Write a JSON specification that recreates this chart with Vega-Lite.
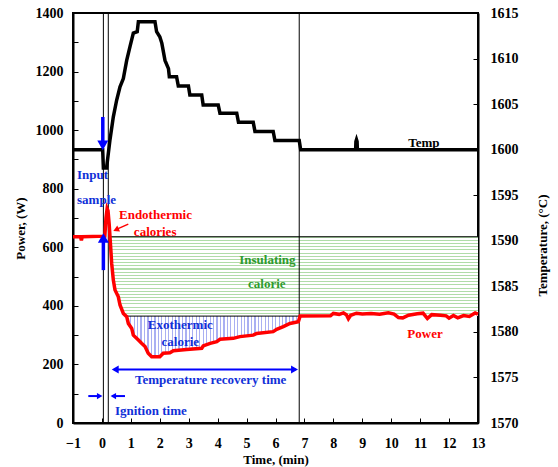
{
  "$schema": "https://vega.github.io/schema/vega-lite/v6.json",
  "width": 405,
  "height": 410,
  "autosize": {"type": "none"},
  "padding": {"left": 73, "top": 13, "right": 80, "bottom": 44},
  "background": "white",
  "config": {
    "view": {"stroke": "black", "strokeWidth": 2},
    "axis": {
      "labelFont": "Liberation Serif", "labelFontWeight": "bold", "labelFontSize": 14, "labelColor": "black",
      "titleFont": "Liberation Serif", "titleFontWeight": "bold", "titleFontSize": 13, "titleColor": "black",
      "domainColor": "black", "domainWidth": 2, "tickColor": "black", "tickWidth": 1, "tickSize": -5,
      "grid": false, "labelFlush": false, "labelOverlap": false
    },
    "text": {"font": "Liberation Serif", "fontWeight": "bold", "fontSize": 13}
  },
  "encoding": {
    "x": {
      "field": "t", "type": "quantitative",
      "scale": {"domain": [-1, 13], "nice": false, "zero": false},
      "axis": {
        "values": [-1, 0, 1, 2, 3, 4, 5, 6, 7, 8, 9, 10, 11, 12, 13],
        "format": "d", "labelPadding": 18,
        "title": "Time, (min)", "titleX": 202.5, "titleY": 36, "titleBaseline": "middle"
      }
    }
  },
  "resolve": {"scale": {"y": "independent"}},
  "layer": [
    {
      "data": {"values": [
        {"t": -1, "temp": 1600}, {"t": 0.026, "temp": 1600}, {"t": 0.05, "temp": 1598.0}, {"t": 0.16, "temp": 1598.0},
        {"t": 0.279, "temp": 1601.1}, {"t": 0.394, "temp": 1603.6}, {"t": 0.51, "temp": 1605.45}, {"t": 0.625, "temp": 1606.9},
        {"t": 0.74, "temp": 1607.8}, {"t": 0.856, "temp": 1609.8}, {"t": 0.97, "temp": 1611.3}, {"t": 1.085, "temp": 1612.8},
        {"t": 1.22, "temp": 1612.95}, {"t": 1.26, "temp": 1614.05}, {"t": 1.834, "temp": 1614.05}, {"t": 1.89, "temp": 1612.95},
        {"t": 2.0, "temp": 1612.4}, {"t": 2.07, "temp": 1611.7}, {"t": 2.18, "temp": 1609.8}, {"t": 2.3, "temp": 1608.9},
        {"t": 2.33, "temp": 1608}, {"t": 2.58, "temp": 1608}, {"t": 2.64, "temp": 1607}, {"t": 2.99, "temp": 1607},
        {"t": 3.04, "temp": 1606}, {"t": 3.45, "temp": 1606}, {"t": 3.5, "temp": 1604.9}, {"t": 4.02, "temp": 1604.9},
        {"t": 4.08, "temp": 1604}, {"t": 4.66, "temp": 1604}, {"t": 4.72, "temp": 1603}, {"t": 5.23, "temp": 1603},
        {"t": 5.29, "temp": 1602}, {"t": 5.92, "temp": 1602}, {"t": 5.98, "temp": 1601}, {"t": 6.82, "temp": 1601},
        {"t": 6.87, "temp": 1600}, {"t": 8.77, "temp": 1600}, {"t": 8.78, "temp": 1600.9}, {"t": 8.8, "temp": 1601.1},
        {"t": 8.82, "temp": 1600.9}, {"t": 8.83, "temp": 1600}, {"t": 13, "temp": 1600}
      ]},
      "mark": {"type": "line", "color": "black", "strokeWidth": 3.5},
      "encoding": {
        "y": {
          "field": "temp", "type": "quantitative",
          "scale": {"domain": [1570, 1615], "nice": false, "zero": false},
          "axis": {
            "orient": "right", "values": [1570, 1575, 1580, 1585, 1590, 1595, 1600, 1605, 1610, 1615],
            "format": "d", "labelPadding": 17,
            "title": "Temperature, (°C)", "titleAngle": -90, "titleX": 64, "titleY": 232,
            "titleBaseline": "middle", "titleAlign": "center"
          }
        }
      }
    },
    {
      "encoding": {
        "y": {
          "field": "p", "type": "quantitative",
          "scale": {"domain": [0, 1400], "nice": false, "zero": false},
          "axis": {
            "orient": "left",
            "values": [0, 100, 200, 300, 400, 500, 600, 700, 800, 900, 1000, 1100, 1200, 1300, 1400],
            "format": "d", "labelExpr": "datum.value % 200 === 0 ? datum.label : ''", "labelPadding": 15,
            "title": "Power, (W)", "titleAngle": -90, "titleX": -53, "titleY": 215,
            "titleBaseline": "middle", "titleAlign": "center"
          }
        }
      },
      "layer": [
        {
          "data": {"values": [
            {"t": 0.28, "p": 636, "p2": 636}, {"t": 0.337, "p": 636, "p2": 545}, {"t": 0.394, "p": 636, "p2": 488},
            {"t": 0.452, "p": 636, "p2": 454}, {"t": 0.567, "p": 636, "p2": 431}, {"t": 0.625, "p": 636, "p2": 403},
            {"t": 0.74, "p": 636, "p2": 374}, {"t": 0.856, "p": 636, "p2": 365}, {"t": 13, "p": 636, "p2": 365}
          ]},
          "mark": {"type": "area", "orient": "vertical", "fill": {"gradient": "linear", "x1": 0, "y1": 0, "x2": 0, "y2": 1, "stops": [
            {"offset":0,"color":"#b0dca8"},{"offset":0.013,"color":"#b0dca8"},{"offset":0.013,"color":"#fff"},{"offset":0.04,"color":"#fff"},
            {"offset":0.04,"color":"#b0dca8"},{"offset":0.053,"color":"#b0dca8"},{"offset":0.053,"color":"#fff"},{"offset":0.08,"color":"#fff"},
            {"offset":0.08,"color":"#b0dca8"},{"offset":0.093,"color":"#b0dca8"},{"offset":0.093,"color":"#fff"},{"offset":0.12,"color":"#fff"},
            {"offset":0.12,"color":"#b0dca8"},{"offset":0.133,"color":"#b0dca8"},{"offset":0.133,"color":"#fff"},{"offset":0.16,"color":"#fff"},
            {"offset":0.16,"color":"#b0dca8"},{"offset":0.173,"color":"#b0dca8"},{"offset":0.173,"color":"#fff"},{"offset":0.2,"color":"#fff"},
            {"offset":0.2,"color":"#b0dca8"},{"offset":0.213,"color":"#b0dca8"},{"offset":0.213,"color":"#fff"},{"offset":0.24,"color":"#fff"},
            {"offset":0.24,"color":"#b0dca8"},{"offset":0.253,"color":"#b0dca8"},{"offset":0.253,"color":"#fff"},{"offset":0.28,"color":"#fff"},
            {"offset":0.28,"color":"#b0dca8"},{"offset":0.293,"color":"#b0dca8"},{"offset":0.293,"color":"#fff"},{"offset":0.32,"color":"#fff"},
            {"offset":0.32,"color":"#b0dca8"},{"offset":0.333,"color":"#b0dca8"},{"offset":0.333,"color":"#fff"},{"offset":0.36,"color":"#fff"},
            {"offset":0.36,"color":"#b0dca8"},{"offset":0.373,"color":"#b0dca8"},{"offset":0.373,"color":"#fff"},{"offset":0.4,"color":"#fff"},
            {"offset":0.4,"color":"#b0dca8"},{"offset":0.413,"color":"#b0dca8"},{"offset":0.413,"color":"#fff"},{"offset":0.44,"color":"#fff"},
            {"offset":0.44,"color":"#b0dca8"},{"offset":0.453,"color":"#b0dca8"},{"offset":0.453,"color":"#fff"},{"offset":0.48,"color":"#fff"},
            {"offset":0.48,"color":"#b0dca8"},{"offset":0.493,"color":"#b0dca8"},{"offset":0.493,"color":"#fff"},{"offset":0.52,"color":"#fff"},
            {"offset":0.52,"color":"#b0dca8"},{"offset":0.533,"color":"#b0dca8"},{"offset":0.533,"color":"#fff"},{"offset":0.56,"color":"#fff"},
            {"offset":0.56,"color":"#b0dca8"},{"offset":0.573,"color":"#b0dca8"},{"offset":0.573,"color":"#fff"},{"offset":0.6,"color":"#fff"},
            {"offset":0.6,"color":"#b0dca8"},{"offset":0.613,"color":"#b0dca8"},{"offset":0.613,"color":"#fff"},{"offset":0.64,"color":"#fff"},
            {"offset":0.64,"color":"#b0dca8"},{"offset":0.653,"color":"#b0dca8"},{"offset":0.653,"color":"#fff"},{"offset":0.68,"color":"#fff"},
            {"offset":0.68,"color":"#b0dca8"},{"offset":0.693,"color":"#b0dca8"},{"offset":0.693,"color":"#fff"},{"offset":0.72,"color":"#fff"},
            {"offset":0.72,"color":"#b0dca8"},{"offset":0.733,"color":"#b0dca8"},{"offset":0.733,"color":"#fff"},{"offset":0.76,"color":"#fff"},
            {"offset":0.76,"color":"#b0dca8"},{"offset":0.773,"color":"#b0dca8"},{"offset":0.773,"color":"#fff"},{"offset":0.8,"color":"#fff"},
            {"offset":0.8,"color":"#b0dca8"},{"offset":0.813,"color":"#b0dca8"},{"offset":0.813,"color":"#fff"},{"offset":0.84,"color":"#fff"},
            {"offset":0.84,"color":"#b0dca8"},{"offset":0.853,"color":"#b0dca8"},{"offset":0.853,"color":"#fff"},{"offset":0.88,"color":"#fff"},
            {"offset":0.88,"color":"#b0dca8"},{"offset":0.893,"color":"#b0dca8"},{"offset":0.893,"color":"#fff"},{"offset":0.92,"color":"#fff"},
            {"offset":0.92,"color":"#b0dca8"},{"offset":0.933,"color":"#b0dca8"},{"offset":0.933,"color":"#fff"},{"offset":0.96,"color":"#fff"},
            {"offset":0.96,"color":"#b0dca8"},{"offset":0.973,"color":"#b0dca8"},{"offset":0.973,"color":"#fff"},{"offset":1,"color":"#fff"}
          ]}},
          "encoding": {"y2": {"field": "p2"}}
        },
        {
          "data": {"values": [
            {"t": 0.856, "p": 365, "p2": 363}, {"t": 0.913, "p": 365, "p2": 340}, {"t": 1.03, "p": 365, "p2": 323},
            {"t": 1.085, "p": 365, "p2": 300}, {"t": 1.26, "p": 365, "p2": 283}, {"t": 1.37, "p": 365, "p2": 272},
            {"t": 1.49, "p": 365, "p2": 261}, {"t": 1.6, "p": 365, "p2": 238}, {"t": 1.72, "p": 365, "p2": 226},
            {"t": 2.0, "p": 365, "p2": 226}, {"t": 2.12, "p": 365, "p2": 238}, {"t": 2.35, "p": 365, "p2": 240},
            {"t": 2.47, "p": 365, "p2": 247}, {"t": 2.93, "p": 365, "p2": 251}, {"t": 3.45, "p": 365, "p2": 255},
            {"t": 3.5, "p": 365, "p2": 263}, {"t": 3.74, "p": 365, "p2": 272}, {"t": 3.97, "p": 365, "p2": 278},
            {"t": 4.08, "p": 365, "p2": 286}, {"t": 4.54, "p": 365, "p2": 289}, {"t": 4.77, "p": 365, "p2": 295},
            {"t": 5.23, "p": 365, "p2": 300}, {"t": 5.35, "p": 365, "p2": 306}, {"t": 5.92, "p": 365, "p2": 312},
            {"t": 6.04, "p": 365, "p2": 320}, {"t": 6.27, "p": 365, "p2": 329}, {"t": 6.5, "p": 365, "p2": 340},
            {"t": 6.79, "p": 365, "p2": 346}, {"t": 6.82, "p": 365, "p2": 346}
          ]},
          "mark": {"type": "area", "orient": "vertical", "fill": {"gradient": "linear", "x1": 0, "y1": 0, "x2": 1, "y2": 0, "stops": [
            {"offset":0,"color":"#aab0f2"},{"offset":0.007,"color":"#aab0f2"},{"offset":0.007,"color":"#fff"},{"offset":0.02,"color":"#fff"},
            {"offset":0.02,"color":"#aab0f2"},{"offset":0.027,"color":"#aab0f2"},{"offset":0.027,"color":"#fff"},{"offset":0.04,"color":"#fff"},
            {"offset":0.04,"color":"#aab0f2"},{"offset":0.047,"color":"#aab0f2"},{"offset":0.047,"color":"#fff"},{"offset":0.06,"color":"#fff"},
            {"offset":0.06,"color":"#aab0f2"},{"offset":0.067,"color":"#aab0f2"},{"offset":0.067,"color":"#fff"},{"offset":0.08,"color":"#fff"},
            {"offset":0.08,"color":"#aab0f2"},{"offset":0.087,"color":"#aab0f2"},{"offset":0.087,"color":"#fff"},{"offset":0.1,"color":"#fff"},
            {"offset":0.1,"color":"#aab0f2"},{"offset":0.107,"color":"#aab0f2"},{"offset":0.107,"color":"#fff"},{"offset":0.12,"color":"#fff"},
            {"offset":0.12,"color":"#aab0f2"},{"offset":0.127,"color":"#aab0f2"},{"offset":0.127,"color":"#fff"},{"offset":0.14,"color":"#fff"},
            {"offset":0.14,"color":"#aab0f2"},{"offset":0.147,"color":"#aab0f2"},{"offset":0.147,"color":"#fff"},{"offset":0.16,"color":"#fff"},
            {"offset":0.16,"color":"#aab0f2"},{"offset":0.167,"color":"#aab0f2"},{"offset":0.167,"color":"#fff"},{"offset":0.18,"color":"#fff"},
            {"offset":0.18,"color":"#aab0f2"},{"offset":0.187,"color":"#aab0f2"},{"offset":0.187,"color":"#fff"},{"offset":0.2,"color":"#fff"},
            {"offset":0.2,"color":"#aab0f2"},{"offset":0.207,"color":"#aab0f2"},{"offset":0.207,"color":"#fff"},{"offset":0.22,"color":"#fff"},
            {"offset":0.22,"color":"#aab0f2"},{"offset":0.227,"color":"#aab0f2"},{"offset":0.227,"color":"#fff"},{"offset":0.24,"color":"#fff"},
            {"offset":0.24,"color":"#aab0f2"},{"offset":0.247,"color":"#aab0f2"},{"offset":0.247,"color":"#fff"},{"offset":0.26,"color":"#fff"},
            {"offset":0.26,"color":"#aab0f2"},{"offset":0.267,"color":"#aab0f2"},{"offset":0.267,"color":"#fff"},{"offset":0.28,"color":"#fff"},
            {"offset":0.28,"color":"#aab0f2"},{"offset":0.287,"color":"#aab0f2"},{"offset":0.287,"color":"#fff"},{"offset":0.3,"color":"#fff"},
            {"offset":0.3,"color":"#aab0f2"},{"offset":0.307,"color":"#aab0f2"},{"offset":0.307,"color":"#fff"},{"offset":0.32,"color":"#fff"},
            {"offset":0.32,"color":"#aab0f2"},{"offset":0.327,"color":"#aab0f2"},{"offset":0.327,"color":"#fff"},{"offset":0.34,"color":"#fff"},
            {"offset":0.34,"color":"#aab0f2"},{"offset":0.347,"color":"#aab0f2"},{"offset":0.347,"color":"#fff"},{"offset":0.36,"color":"#fff"},
            {"offset":0.36,"color":"#aab0f2"},{"offset":0.367,"color":"#aab0f2"},{"offset":0.367,"color":"#fff"},{"offset":0.38,"color":"#fff"},
            {"offset":0.38,"color":"#aab0f2"},{"offset":0.387,"color":"#aab0f2"},{"offset":0.387,"color":"#fff"},{"offset":0.4,"color":"#fff"},
            {"offset":0.4,"color":"#aab0f2"},{"offset":0.407,"color":"#aab0f2"},{"offset":0.407,"color":"#fff"},{"offset":0.42,"color":"#fff"},
            {"offset":0.42,"color":"#aab0f2"},{"offset":0.427,"color":"#aab0f2"},{"offset":0.427,"color":"#fff"},{"offset":0.44,"color":"#fff"},
            {"offset":0.44,"color":"#aab0f2"},{"offset":0.447,"color":"#aab0f2"},{"offset":0.447,"color":"#fff"},{"offset":0.46,"color":"#fff"},
            {"offset":0.46,"color":"#aab0f2"},{"offset":0.467,"color":"#aab0f2"},{"offset":0.467,"color":"#fff"},{"offset":0.48,"color":"#fff"},
            {"offset":0.48,"color":"#aab0f2"},{"offset":0.487,"color":"#aab0f2"},{"offset":0.487,"color":"#fff"},{"offset":0.5,"color":"#fff"},
            {"offset":0.5,"color":"#aab0f2"},{"offset":0.507,"color":"#aab0f2"},{"offset":0.507,"color":"#fff"},{"offset":0.52,"color":"#fff"},
            {"offset":0.52,"color":"#aab0f2"},{"offset":0.527,"color":"#aab0f2"},{"offset":0.527,"color":"#fff"},{"offset":0.54,"color":"#fff"},
            {"offset":0.54,"color":"#aab0f2"},{"offset":0.547,"color":"#aab0f2"},{"offset":0.547,"color":"#fff"},{"offset":0.56,"color":"#fff"},
            {"offset":0.56,"color":"#aab0f2"},{"offset":0.567,"color":"#aab0f2"},{"offset":0.567,"color":"#fff"},{"offset":0.58,"color":"#fff"},
            {"offset":0.58,"color":"#aab0f2"},{"offset":0.587,"color":"#aab0f2"},{"offset":0.587,"color":"#fff"},{"offset":0.6,"color":"#fff"},
            {"offset":0.6,"color":"#aab0f2"},{"offset":0.607,"color":"#aab0f2"},{"offset":0.607,"color":"#fff"},{"offset":0.62,"color":"#fff"},
            {"offset":0.62,"color":"#aab0f2"},{"offset":0.627,"color":"#aab0f2"},{"offset":0.627,"color":"#fff"},{"offset":0.64,"color":"#fff"},
            {"offset":0.64,"color":"#aab0f2"},{"offset":0.647,"color":"#aab0f2"},{"offset":0.647,"color":"#fff"},{"offset":0.66,"color":"#fff"},
            {"offset":0.66,"color":"#aab0f2"},{"offset":0.667,"color":"#aab0f2"},{"offset":0.667,"color":"#fff"},{"offset":0.68,"color":"#fff"},
            {"offset":0.68,"color":"#aab0f2"},{"offset":0.687,"color":"#aab0f2"},{"offset":0.687,"color":"#fff"},{"offset":0.7,"color":"#fff"},
            {"offset":0.7,"color":"#aab0f2"},{"offset":0.707,"color":"#aab0f2"},{"offset":0.707,"color":"#fff"},{"offset":0.72,"color":"#fff"},
            {"offset":0.72,"color":"#aab0f2"},{"offset":0.727,"color":"#aab0f2"},{"offset":0.727,"color":"#fff"},{"offset":0.74,"color":"#fff"},
            {"offset":0.74,"color":"#aab0f2"},{"offset":0.747,"color":"#aab0f2"},{"offset":0.747,"color":"#fff"},{"offset":0.76,"color":"#fff"},
            {"offset":0.76,"color":"#aab0f2"},{"offset":0.767,"color":"#aab0f2"},{"offset":0.767,"color":"#fff"},{"offset":0.78,"color":"#fff"},
            {"offset":0.78,"color":"#aab0f2"},{"offset":0.787,"color":"#aab0f2"},{"offset":0.787,"color":"#fff"},{"offset":0.8,"color":"#fff"},
            {"offset":0.8,"color":"#aab0f2"},{"offset":0.807,"color":"#aab0f2"},{"offset":0.807,"color":"#fff"},{"offset":0.82,"color":"#fff"},
            {"offset":0.82,"color":"#aab0f2"},{"offset":0.827,"color":"#aab0f2"},{"offset":0.827,"color":"#fff"},{"offset":0.84,"color":"#fff"},
            {"offset":0.84,"color":"#aab0f2"},{"offset":0.847,"color":"#aab0f2"},{"offset":0.847,"color":"#fff"},{"offset":0.86,"color":"#fff"},
            {"offset":0.86,"color":"#aab0f2"},{"offset":0.867,"color":"#aab0f2"},{"offset":0.867,"color":"#fff"},{"offset":0.88,"color":"#fff"},
            {"offset":0.88,"color":"#aab0f2"},{"offset":0.887,"color":"#aab0f2"},{"offset":0.887,"color":"#fff"},{"offset":0.9,"color":"#fff"},
            {"offset":0.9,"color":"#aab0f2"},{"offset":0.907,"color":"#aab0f2"},{"offset":0.907,"color":"#fff"},{"offset":0.92,"color":"#fff"},
            {"offset":0.92,"color":"#aab0f2"},{"offset":0.927,"color":"#aab0f2"},{"offset":0.927,"color":"#fff"},{"offset":0.94,"color":"#fff"},
            {"offset":0.94,"color":"#aab0f2"},{"offset":0.947,"color":"#aab0f2"},{"offset":0.947,"color":"#fff"},{"offset":0.96,"color":"#fff"},
            {"offset":0.96,"color":"#aab0f2"},{"offset":0.967,"color":"#aab0f2"},{"offset":0.967,"color":"#fff"},{"offset":0.98,"color":"#fff"},
            {"offset":0.98,"color":"#aab0f2"},{"offset":0.987,"color":"#aab0f2"},{"offset":0.987,"color":"#fff"},{"offset":1,"color":"#fff"}
          ]}},
          "encoding": {"y2": {"field": "p2"}}
        },
        {
          "data": {"values": [
            {"t": 0.05, "p": 0, "p2": 1400}, {"t": 0.22, "p": 0, "p2": 1400}, {"t": 6.82, "p": 0, "p2": 1400}
          ]},
          "mark": {"type": "rule", "color": "black", "strokeWidth": 1},
          "encoding": {"y2": {"field": "p2"}}
        },
        {
          "data": {"values": [
            {"t": 0.28, "t2": 13, "p": 636}, {"t": 0.82, "t2": 6.82, "p": 365}
          ]},
          "mark": {"type": "rule", "color": "black", "strokeWidth": 1},
          "encoding": {"x2": {"field": "t2"}}
        },
        {
          "data": {"values": [
            {"t": -1, "p": 636}, {"t": -0.74, "p": 636}, {"t": -0.71, "p": 624}, {"t": -0.68, "p": 636},
            {"t": 0.1, "p": 638}, {"t": 0.14, "p": 700}, {"t": 0.18, "p": 732}, {"t": 0.21, "p": 725},
            {"t": 0.25, "p": 680}, {"t": 0.279, "p": 636}, {"t": 0.337, "p": 545}, {"t": 0.394, "p": 488},
            {"t": 0.452, "p": 454}, {"t": 0.567, "p": 431}, {"t": 0.625, "p": 403}, {"t": 0.74, "p": 374},
            {"t": 0.856, "p": 363}, {"t": 0.913, "p": 340}, {"t": 1.03, "p": 323}, {"t": 1.085, "p": 300},
            {"t": 1.26, "p": 283}, {"t": 1.37, "p": 272}, {"t": 1.49, "p": 261}, {"t": 1.6, "p": 238},
            {"t": 1.72, "p": 226}, {"t": 2.0, "p": 226}, {"t": 2.12, "p": 238}, {"t": 2.35, "p": 240},
            {"t": 2.47, "p": 247}, {"t": 2.93, "p": 251}, {"t": 3.45, "p": 255}, {"t": 3.5, "p": 263},
            {"t": 3.74, "p": 272}, {"t": 3.97, "p": 278}, {"t": 4.08, "p": 286}, {"t": 4.54, "p": 289},
            {"t": 4.77, "p": 295}, {"t": 5.23, "p": 300}, {"t": 5.35, "p": 306}, {"t": 5.92, "p": 312},
            {"t": 6.04, "p": 320}, {"t": 6.27, "p": 329}, {"t": 6.5, "p": 340}, {"t": 6.79, "p": 346},
            {"t": 6.85, "p": 365}, {"t": 7.9, "p": 366}, {"t": 8.0, "p": 374}, {"t": 8.2, "p": 371},
            {"t": 8.35, "p": 376}, {"t": 8.45, "p": 370}, {"t": 8.52, "p": 356}, {"t": 8.6, "p": 368},
            {"t": 8.8, "p": 375}, {"t": 9.0, "p": 372}, {"t": 9.3, "p": 374}, {"t": 9.6, "p": 371},
            {"t": 9.9, "p": 376}, {"t": 10.1, "p": 372}, {"t": 10.25, "p": 360}, {"t": 10.4, "p": 359},
            {"t": 10.6, "p": 368}, {"t": 10.9, "p": 373}, {"t": 11.1, "p": 375}, {"t": 11.25, "p": 357},
            {"t": 11.4, "p": 370}, {"t": 11.7, "p": 368}, {"t": 11.9, "p": 366}, {"t": 12.0, "p": 358},
            {"t": 12.15, "p": 367}, {"t": 12.3, "p": 359}, {"t": 12.5, "p": 367}, {"t": 12.7, "p": 364},
            {"t": 12.9, "p": 376}, {"t": 13, "p": 372}
          ]},
          "mark": {"type": "line", "color": "#ff0000", "strokeWidth": 3.5}
        },
        {
          "data": {"values": [
            {"t": 0.03, "p": 1045, "p2": 962}, {"t": 0.05, "p": 618, "p2": 522}
          ]},
          "mark": {"type": "rule", "color": "#0000ff", "strokeWidth": 3.5},
          "encoding": {"y2": {"field": "p2"}}
        },
        {
          "data": {"values": [
            {"t": 0.42, "t2": 6.7, "p": 183}, {"t": -0.471, "t2": -0.1, "p": 92}, {"t": 0.36, "t2": 0.797, "p": 92}
          ]},
          "mark": {"type": "rule", "color": "#0000ff", "strokeWidth": 2},
          "encoding": {"x2": {"field": "t2"}}
        },
        {
          "data": {"values": [{"t": 0.911, "p": 679, "p2": 661, "t2": 0.5}]},
          "mark": {"type": "rule", "color": "#ff0000", "strokeWidth": 1.5},
          "encoding": {"x2": {"field": "t2"}, "y2": {"field": "p2"}}
        },
        {
          "data": {"values": [{"t": 0.486, "p": 660}]},
          "mark": {"type": "point", "shape": "triangle-up", "angle": 246, "filled": true, "size": 45, "color": "#ff0000", "opacity": 1}
        },
        {
          "data": {"values": [{"t": 0.03, "p": 948}]},
          "mark": {"type": "point", "shape": "triangle-down", "filled": true, "size": 121, "color": "#0000ff", "opacity": 1}
        },
        {
          "data": {"values": [{"t": 0.05, "p": 632}]},
          "mark": {"type": "point", "shape": "triangle-up", "filled": true, "size": 121, "color": "#0000ff", "opacity": 1}
        },
        {
          "data": {"values": [{"t": 0.459, "p": 183}]},
          "mark": {"type": "point", "shape": "triangle-left", "filled": true, "size": 64, "color": "#0000ff", "opacity": 1}
        },
        {
          "data": {"values": [{"t": 6.657, "p": 183}]},
          "mark": {"type": "point", "shape": "triangle-right", "filled": true, "size": 64, "color": "#0000ff", "opacity": 1}
        },
        {
          "data": {"values": [{"t": -0.077, "p": 92}]},
          "mark": {"type": "point", "shape": "triangle-right", "filled": true, "size": 40, "color": "#0000ff", "opacity": 1}
        },
        {
          "data": {"values": [{"t": 0.393, "p": 92}]},
          "mark": {"type": "point", "shape": "triangle-left", "filled": true, "size": 40, "color": "#0000ff", "opacity": 1}
        },
        {
          "data": {"values": [
            {"t": 2.71, "p": 335, "label": "Exothermic"}, {"t": 2.71, "p": 275, "label": "calorie"},
            {"t": 3.76, "p": 147, "label": "Temperature recovery time"}, {"t": 1.69, "p": 41, "label": "Ignition time"}
          ]},
          "mark": {"type": "text", "color": "#1030d8", "align": "center", "baseline": "middle"},
          "encoding": {"text": {"field": "label"}}
        },
        {
          "data": {"values": [
            {"t": -0.86, "p": 847, "label": "Input"}, {"t": -0.86, "p": 761, "label": "sample"}
          ]},
          "mark": {"type": "text", "color": "#1030d8", "align": "left", "baseline": "middle"},
          "encoding": {"text": {"field": "label"}}
        },
        {
          "data": {"values": [
            {"t": 1.85, "p": 710, "label": "Endothermic"}, {"t": 1.84, "p": 651, "label": "calories"},
            {"t": 11.17, "p": 304, "label": "Power"}
          ]},
          "mark": {"type": "text", "color": "#ff0000", "align": "center", "baseline": "middle"},
          "encoding": {"text": {"field": "label"}}
        },
        {
          "data": {"values": [
            {"t": 5.72, "p": 556, "label": "Insulating"}, {"t": 5.7, "p": 473, "label": "calorie"}
          ]},
          "mark": {"type": "text", "color": "#2e9a2e", "align": "center", "baseline": "middle"},
          "encoding": {"text": {"field": "label"}}
        },
        {
          "data": {"values": [{"t": 11.13, "p": 955, "label": "Temp"}]},
          "mark": {"type": "text", "color": "black", "align": "center", "baseline": "middle"},
          "encoding": {"text": {"field": "label"}}
        }
      ]
    }
  ]
}
